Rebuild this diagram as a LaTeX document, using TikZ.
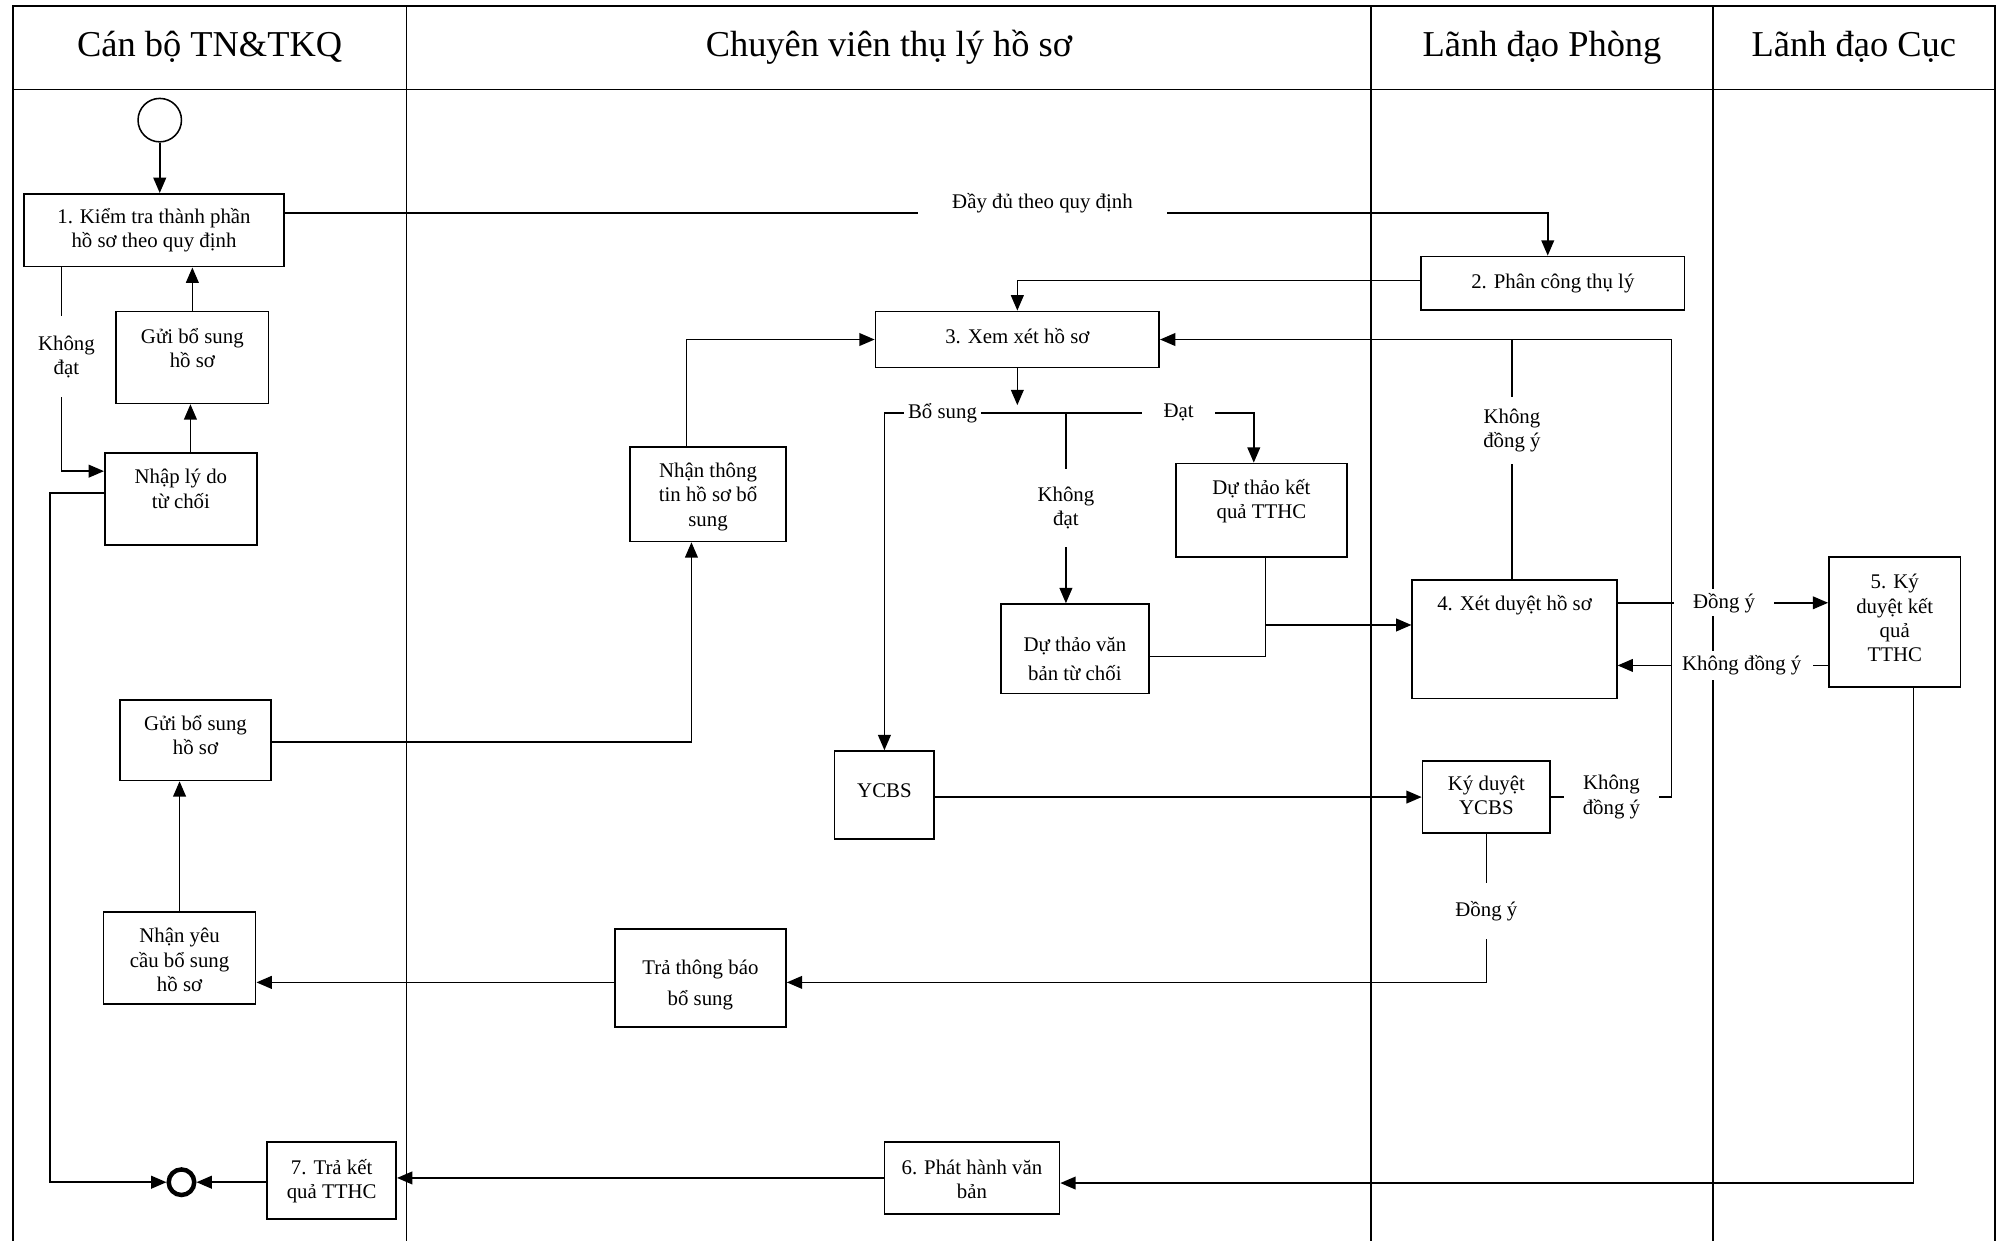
\documentclass[tikz,border=0pt]{standalone}
\usepackage{fontspec}
\setmainfont{Liberation Serif}
\usetikzlibrary{arrows.meta}
\begin{document}
\begin{tikzpicture}[x=1pt,y=-1pt,
  every node/.style={font=\fontsize{16.3}{19}\selectfont},
  box/.style={draw, line width=1.3pt, anchor=north, inner xsep=2pt, inner ysep=0pt, align=center},
  conn/.style={line width=1.2pt},
  arr/.style={conn, -{Triangle[length=12pt,width=10pt]}},
  lbl/.style={fill=white, inner sep=2pt, align=center},
  hdr/.style={font=\fontsize{28.5}{32}\selectfont, anchor=base},
  lane/.style={line width=1.4pt}
]
\useasboundingbox (0,0) rectangle (1568,971);

% swimlane frame
\draw[lane] (10,971) -- (10,5) -- (1561,5) -- (1561,971);
\draw[lane] (10,70) -- (1561,70);
\draw[lane] (318,5) -- (318,971);
\draw[lane] (1073,5) -- (1073,971);
\draw[lane] (1340,5) -- (1340,971);

\node[hdr] (h1) at (164,44) {Cán bộ TN\&TKQ};
\node[hdr] (h2) at (695.5,44) {Chuyên viên thụ lý hồ sơ};
\node[hdr] (h3) at (1206.5,44) {Lãnh đạo Phòng};
\node[hdr] (h4) at (1450.5,44) {Lãnh đạo Cục};

% events
\node[draw, circle, minimum size=34pt, inner sep=0pt, line width=1.2pt] (st) at (125,94) {};
\node[draw, circle, minimum size=20pt, inner sep=0pt, line width=3.5pt] (en) at (142,925) {};

% boxes (text height = top to last baseline, text depth = last baseline to bottom)
\node[box, minimum width=203pt, text height=42pt, text depth=15pt] (b1) at (120.5,151) {1. Kiểm tra thành phần\\hồ sơ theo quy định};
\node[box, minimum width=119pt, text height=44pt, text depth=28pt] (g1) at (150.5,243) {Gửi bổ sung\\hồ sơ};
\node[box, minimum width=119pt, text height=43pt, text depth=29pt] (nh) at (141.5,354) {Nhập lý do\\từ chối};
\node[box, minimum width=122pt, text height=62pt, text depth=12pt] (ntt) at (554,349) {Nhận thông\\tin hồ sơ bổ\\sung};
\node[box, minimum width=222pt, text height=25pt, text depth=19pt] (xx) at (796,243) {3. Xem xét hồ sơ};
\node[box, minimum width=206pt, text height=25pt, text depth=17pt] (pc) at (1215,200) {2. Phân công thụ lý};
\node[box, minimum width=134pt, text height=43pt, text depth=30pt] (dkq) at (987,362) {Dự thảo kết\\quả TTHC};
\node[box, minimum width=116pt, text height=60pt, text depth=10pt] (dvb) at (841,472) {Dự thảo văn\\[4pt]bản từ chối};
\node[box, minimum width=160pt, text height=24pt, text depth=69pt] (x4) at (1185,453) {4. Xét duyệt hồ sơ};
\node[box, minimum width=103pt, text height=82pt, text depth=20pt] (k5) at (1482.5,435) {5. Ký\\duyệt kết\\quả\\TTHC};
\node[box, minimum width=78pt, text height=36pt, text depth=33pt] (yc) at (692,587) {YCBS};
\node[box, minimum width=100pt, text height=42pt, text depth=14pt] (kyc) at (1163,595) {Ký duyệt\\YCBS};
\node[box, minimum width=134pt, text height=60pt, text depth=17pt] (ttb) at (548,726) {Trả thông báo\\[5pt]bổ sung};
\node[box, minimum width=118pt, text height=43pt, text depth=20pt] (g2) at (153,547) {Gửi bổ sung\\hồ sơ};
\node[box, minimum width=119pt, text height=62pt, text depth=10pt] (nyc) at (140.5,713) {Nhận yêu\\cầu bổ sung\\hồ sơ};
\node[box, minimum width=101pt, text height=44pt, text depth=16pt] (t7) at (259.5,893) {7. Trả kết\\quả TTHC};
\node[box, minimum width=137pt, text height=44pt, text depth=12pt] (p6) at (760.5,893) {6. Phát hành văn\\bản};

% helper coordinates
\coordinate (b1e) at ([yshift=13.5pt]b1.east);
\coordinate (pcn) at ([xshift=-4pt]pc.north);
\coordinate (pcw) at ([yshift=2pt]pc.west);
\coordinate (nttn) at ([xshift=-17pt]ntt.north);
\coordinate (ntts) at ([xshift=-13pt]ntt.south);
\coordinate (xtip) at (796,317);
\coordinate (fk) at (834,323);
\coordinate (fl) at (692,323);
\coordinate (fr) at (981,323);
\coordinate (dvbe) at ([yshift=-6pt]dvb.east);
\coordinate (dkqs) at ([xshift=3pt]dkq.south);
\coordinate (jn) at (990,489);
\coordinate (x4a) at ([yshift=28.5pt]x4.east);
\coordinate (x4b) at ([yshift=-20.5pt]x4.east);
\coordinate (lp) at (1308,624);
\coordinate (x4n) at ([xshift=-2pt]x4.north);
\coordinate (tb) at ([yshift=-3.5pt]ttb.east);
\coordinate (tw) at ([yshift=-3.5pt]ttb.west);
\coordinate (g2e) at ([yshift=-1.5pt]g2.east);
\coordinate (nhn) at ([xshift=7.5pt]nh.north);
\coordinate (b1k) at ([xshift=-72.5pt]b1.south);
\coordinate (nhk) at ([yshift=22pt]nh.west);
\coordinate (nhw) at ([yshift=5pt]nh.west);
\coordinate (rail) at (39,925);
\coordinate (k5s) at ([xshift=14.5pt]k5.south);
\coordinate (p6e) at ([yshift=-4pt]p6.east);

% connectors
\draw[arr] (st) -- (st |- b1.north);
\draw[arr] (b1e) -| node[lbl, pos=0.3, inner xsep=27pt, yshift=8pt] {Đầy đủ theo quy định} (pcn);
\draw[arr] (pcw) -| (xx.north);
\draw[arr] (nttn) |- (xx.west);
\draw[arr] (xx.south) -- (xtip);
\draw[arr] (fk) -- node[lbl, pos=0.68, inner xsep=3pt] {Bổ sung} (fl) -- (yc.north);
\draw[arr] (fk) -- node[lbl, pos=0.6, inner xsep=17pt] {Đạt} (fr) -- (fr |- dkq.north);
\draw[arr] (fk) -- node[lbl, pos=0.5, inner ysep=14pt] {Không\\đạt} (fk |- dvb.north);
\draw[conn] (dvbe) -| (dkqs);
\draw[arr] (jn) -- (jn -| x4.west);
\draw[arr] (x4a) -- node[lbl, pos=0.506, inner xsep=15pt, inner ysep=3pt] {Đồng ý} (x4a -| k5.west);
\draw[arr] (x4b -| k5.west) -- node[lbl, pos=0.41, inner xsep=9pt, inner ysep=4pt] {Không đồng ý} (x4b);
\draw[conn] (x4n) -- node[lbl, pos=0.62, inner ysep=9pt] {Không\\đồng ý} (x4n |- xx.east);
\draw[arr] (kyc.east) -- node[lbl, pos=0.5, inner xsep=15pt] {Không\\đồng ý} (kyc.east -| lp) |- (xx.east);
\draw[arr] (yc.east |- kyc.west) -- (kyc.west);
\draw[arr] (kyc.south) |- node[lbl, pos=0.26, inner ysep=14pt] {Đồng ý} (tb);
\draw[arr] (tw) -- (tw -| nyc.east);
\draw[arr] (nyc.north) -- (nyc.north |- g2.south);
\draw[arr] (g2e) -| (ntts);
\draw[arr] (nhn) -- (nhn |- g1.south);
\draw[arr] (g1.north) -- (g1.north |- b1.south);
\draw[arr] (b1k) |- node[lbl, pos=0.219, inner ysep=15pt, xshift=4pt] {Không\\đạt} (nhk);
\draw[arr] (nhw) -| (rail) -- (en.west);
\draw[arr] (t7.west |- en.east) -- (en.east);
\draw[arr] (p6.west) -- (p6.west -| t7.east);
\draw[arr] (k5s) |- (p6e);
\end{tikzpicture}
\end{document}
